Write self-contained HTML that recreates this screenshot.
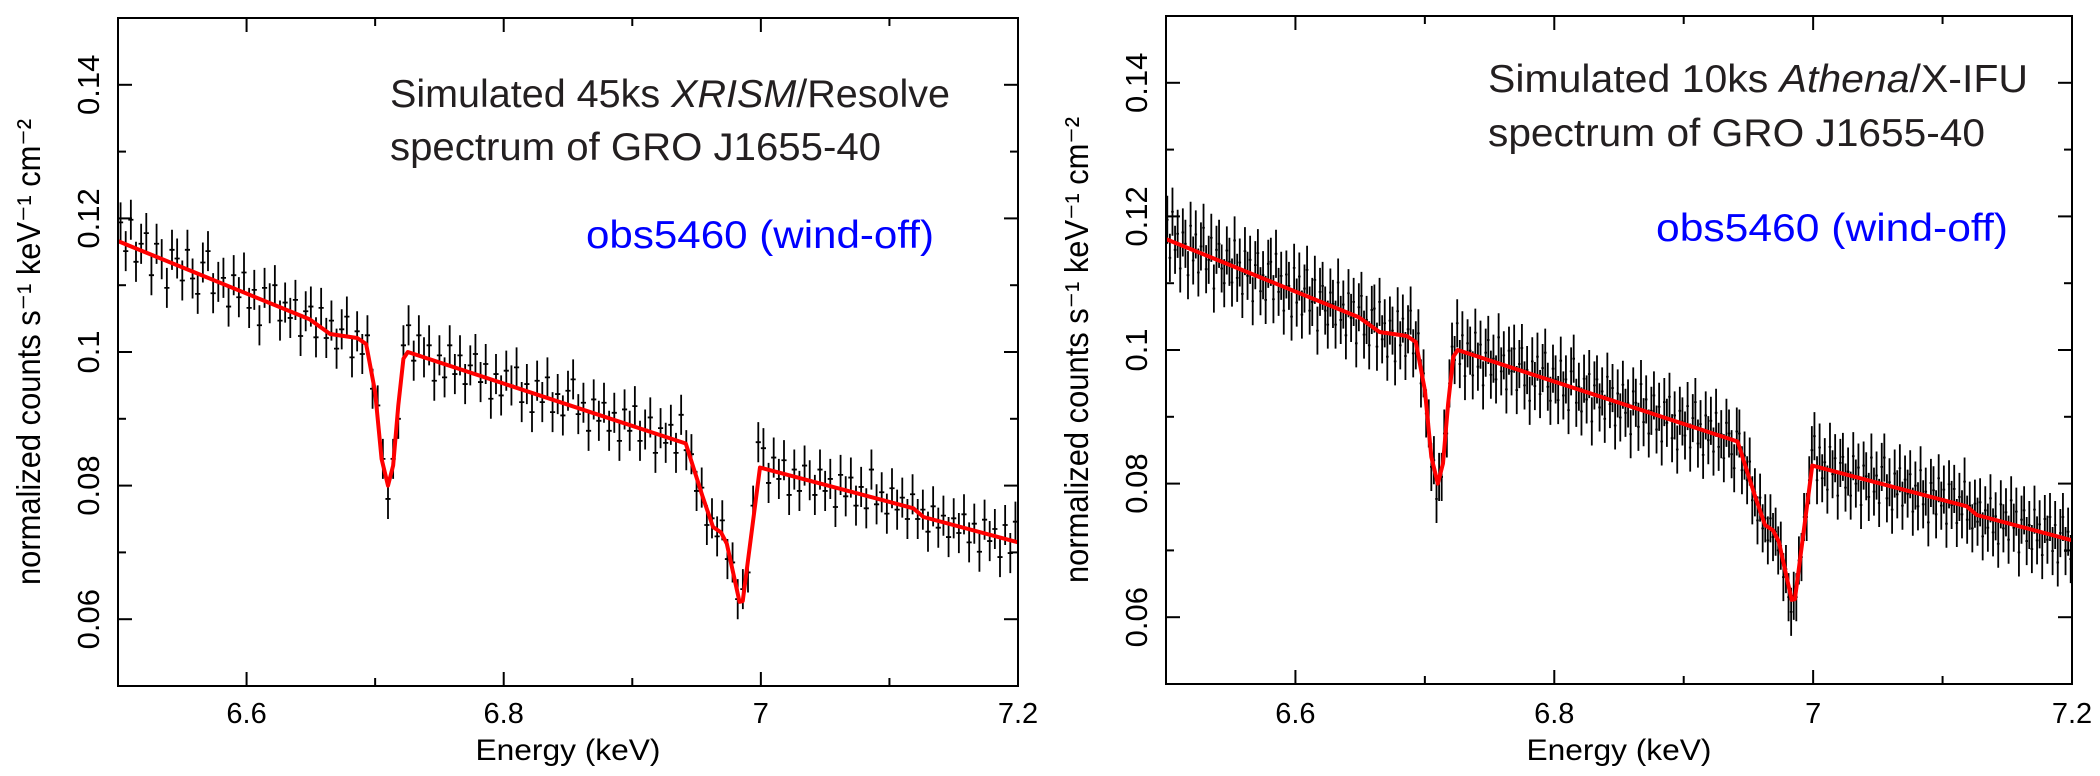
<!DOCTYPE html>
<html><head><meta charset="utf-8">
<style>
html,body{margin:0;padding:0;background:#fff;}
svg{display:block;font-family:"Liberation Sans",sans-serif;}
</style></head>
<body>
<svg id="fig" width="2100" height="776" viewBox="0 0 2100 776" xmlns="http://www.w3.org/2000/svg">
<defs>
<clipPath id="clipL"><rect x="118" y="18" width="900" height="668"/></clipPath>
<clipPath id="clipR"><rect x="1166" y="16" width="906" height="668"/></clipPath>
</defs>
<g id="panelL"></g>
<g id="panelR"></g>

<text x="390" y="107" font-size="39" fill="#231f20" textLength="560" lengthAdjust="spacingAndGlyphs">Simulated 45ks <tspan font-style="italic">XRISM</tspan>/Resolve</text>
<text x="390" y="160" font-size="39" fill="#231f20" textLength="491" lengthAdjust="spacingAndGlyphs">spectrum of GRO J1655-40</text>
<text x="586" y="248" font-size="39" fill="#0000ff" textLength="348" lengthAdjust="spacingAndGlyphs">obs5460 (wind-off)</text>

<text x="1488" y="92" font-size="39" fill="#231f20" textLength="540" lengthAdjust="spacingAndGlyphs">Simulated 10ks <tspan font-style="italic">Athena</tspan>/X-IFU</text>
<text x="1488" y="146" font-size="39" fill="#231f20" textLength="497" lengthAdjust="spacingAndGlyphs">spectrum of GRO J1655-40</text>
<text x="1656" y="241" font-size="39" fill="#0000ff" textLength="352" lengthAdjust="spacingAndGlyphs">obs5460 (wind-off)</text>
</svg>
<script>
// ---- data ----
const xTickValues = [6.6, 6.8, 7.0, 7.2];
const xTickLabels = ["6.6", "6.8", "7", "7.2"];
const xMinorTicks = [6.7, 6.9, 7.1];
const yTickValues = [0.06, 0.08, 0.10, 0.12, 0.14];
const yTickLabels = ["0.06", "0.08", "0.1", "0.12", "0.14"];
const yMinorTicks = [0.07, 0.09, 0.11, 0.13];

const modelEnergy = [6.5,6.649,6.665,6.686,6.693,6.700,6.705,6.710,6.714,6.718,6.722,6.7254,6.9416,6.9548,6.9628,6.969,6.9735,6.9834,6.9859,6.9993,7.1186,7.1265,7.2];
const modelFlux = [.1166,.1049,.1027,.1021,.1012,.0940,.0840,.0800,.0830,.0920,.0990,.1000,.0863,.0783,.0738,.0730,.0713,.0626,.0627,.0827,.0766,.0753,.0715];

// XRISM/Resolve: bins start 6.502 keV, 4 eV wide
const leftStart = 6.502, leftBin = 0.004, leftErr = 0.0030;
const leftValues = [
.1194,.1151,.1198,.1135,.1162,.1178,.1115,.1162,.1139,.1096,.1153,.1140,.1107,.1153,.1110,.1087,.1134,.1151,.1088,.1105,
.1111,.1068,.1115,.1082,.1119,.1066,.1093,.1040,.1096,.1073,.1100,.1047,.1074,.1051,.1078,.1024,.1061,.1068,.1022,.1066,
.1021,.1047,.1005,.1034,.1053,.0992,.1031,.0997,.1025,.0945,.0920,.0840,.0780,.0840,.0900,.1010,.1040,.0987,.1025,.0992,
.1010,.0957,.0995,.0962,.1010,.0967,.0995,.0952,.0980,.0997,.0955,.0982,.0930,.0967,.0935,.0972,.0950,.0977,.0925,.0952,
.0910,.0957,.0925,.0962,.0910,.0937,.0905,.0942,.0959,.0907,.0924,.0882,.0929,.0897,.0924,.0882,.0909,.0867,.0914,.0882,
.0919,.0867,.0884,.0902,.0849,.0886,.0864,.0891,.0849,.0906,.0853,.0847,.0792,.0797,.0741,.0751,.0724,.0748,.0690,.0685,
.0630,.0645,.0670,.0770,.0865,.0856,.0804,.0842,.0810,.0838,.0786,.0824,.0792,.0830,.0808,.0786,.0824,.0792,.0810,.0768,
.0816,.0784,.0812,.0770,.0798,.0766,.0824,.0772,.0790,.0758,.0796,.0764,.0782,.0750,.0787,.0750,.0764,.0731,.0769,.0737,
.0755,.0723,.0751,.0729,.0757,.0715,.0743,.0701,.0749,.0717,.0735,.0693,.0741,.0699,.0746];

// Athena/X-IFU: bins start 6.501 keV, 2 eV wide
const rightStart = 6.501, rightBin = 0.002, rightErr = 0.0036;
const rightValues = [
.1195,.1138,.1207,.1150,.1174,.1122,.1176,.1159,.1112,.1186,.1134,.1173,.1116,.1155,.1183,.1121,.1135,.1168,.1092,.1150,
.1159,.1122,.1100,.1149,.1132,.1101,.1164,.1108,.1131,.1084,.1148,.1111,.1135,.1073,.1127,.1145,.1088,.1112,.1075,.1129,
.1132,.1076,.1144,.1087,.1111,.1059,.1113,.1096,.1050,.1123,.1071,.1110,.1053,.1092,.1120,.1059,.1072,.1105,.1029,.1087,
.1096,.1059,.1038,.1086,.1069,.1038,.1101,.1045,.1068,.1022,.1085,.1048,.1072,.1010,.1064,.1081,.1023,.1045,.1007,.1060,
.1062,.1005,.1072,.1016,.1040,.0990,.1044,.1029,.0983,.1058,.1007,.1047,.0991,.1031,.1059,.0995,.1007,.1025,.0950,.0965,
.0905,.0890,.0825,.0835,.0777,.0810,.0810,.0875,.0875,.0950,.1005,.0985,.1040,.0979,.1022,.0961,.1010,.0999,.0962,.1026,
.0975,.1008,.0947,.0996,.1015,.0963,.0987,.0956,.1019,.0968,.0992,.0941,.0999,.0968,.1002,.0940,.0979,.1003,.0947,.0970,
.0924,.0983,.0946,.0990,.0934,.0973,.0996,.0945,.0924,.0972,.0956,.0925,.0984,.0932,.0956,.0910,.0968,.0987,.0921,.0945,
.0908,.0957,.0926,.0964,.0893,.0947,.0956,.0914,.0938,.0897,.0960,.0919,.0943,.0887,.0935,.0899,.0948,.0906,.0920,.0874,
.0938,.0921,.0885,.0949,.0892,.0926,.0875,.0909,.0932,.0881,.0915,.0863,.0922,.0891,.0930,.0868,.0902,.0851,.0909,.0893,
.0872,.0916,.0854,.0898,.0922,.0860,.0889,.0843,.0902,.0865,.0894,.0848,.0906,.0855,.0874,.0838,.0891,.0875,.0844,.0823,
.0878,.0875,.0820,.0842,.0805,.0833,.0775,.0787,.0745,.0779,.0733,.0748,.0715,.0748,.0720,.0728,.0700,.0707,.0660,.0672,
.0630,.0608,.0632,.0630,.0685,.0690,.0750,.0750,.0805,.0850,.0871,.0805,.0854,.0808,.0832,.0791,.0855,.0814,.0838,.0782,
.0831,.0840,.0794,.0818,.0782,.0841,.0800,.0824,.0768,.0827,.0811,.0780,.0839,.0788,.0812,.0771,.0825,.0839,.0778,.0802,
.0761,.0815,.0784,.0823,.0767,.0806,.0785,.0814,.0758,.0797,.0766,.0820,.0769,.0788,.0742,.0801,.0790,.0754,.0808,.0767,
.0791,.0740,.0799,.0768,.0792,.0741,.0780,.0754,.0803,.0746,.0767,.0733,.0770,.0743,.0772,.0721,.0760,.0734,.0778,.0727,
.0751,.0710,.0769,.0733,.0757,.0716,.0775,.0734,.0758,.0697,.0746,.0760,.0714,.0738,.0702,.0761,.0715,.0739,.0693,.0747,
.0716,.0750,.0699,.0738,.0682,.0726,.0750,.0699,.0728,.0687];

const NS = "http://www.w3.org/2000/svg";
function mk(tag, attrs, parent) {
  const el = document.createElementNS(NS, tag);
  for (const k in attrs) el.setAttribute(k, attrs[k]);
  parent.appendChild(el);
  return el;
}

function drawPanel(g, cfg, values, start, bin, err, side) {
  const xMin = 6.5, xMax = 7.2, yMin = 0.05, yMax = 0.15;
  const X = e => cfg.x0 + (e - xMin) / (xMax - xMin) * (cfg.x1 - cfg.x0);
  const Y = v => cfg.y1 - (v - yMin) / (yMax - yMin) * (cfg.y1 - cfg.y0);

  const dg = mk("g", {"clip-path": "url(#" + cfg.clip + ")", stroke: "#000", "stroke-width": cfg.sw, fill: "none"}, g);
  
  
  for (let i = 0; i < values.length; i++) {
    const e = start + i * bin;
    const v = values[i];
    const xc = X(e), yc = Y(v);
    const d = "M" + xc.toFixed(2) + " " + Y(v + err).toFixed(2) + "V" + Y(v - err).toFixed(2) +
              "M" + X(e - bin / 2).toFixed(2) + " " + yc.toFixed(2) + "H" + X(e + bin / 2).toFixed(2);
    const p = mk("path", {d: d}, dg);
    
    
  }

  let pts = [];
  for (let i = 0; i < modelEnergy.length; i++) pts.push(X(modelEnergy[i]).toFixed(2) + "," + Y(modelFlux[i]).toFixed(2));
  const ml = mk("polyline", {points: pts.join(" "), fill: "none", stroke: "#ff0000", "stroke-width": 4, "stroke-linejoin": "round", "clip-path": "url(#" + cfg.clip + ")"}, g);
  
  

  const fr = mk("rect", {x: cfg.x0, y: cfg.y0, width: cfg.x1 - cfg.x0, height: cfg.y1 - cfg.y0, fill: "none", stroke: "#000", "stroke-width": 2}, g);
  
  

  const tg = mk("g", {stroke: "#000", "stroke-width": 2}, g);
  
  
  const addTick = (x1, y1, x2, y2) => mk("line", {x1: x1, y1: y1, x2: x2, y2: y2}, tg);
  xTickValues.forEach(t => { const x = X(t); addTick(x, cfg.y1, x, cfg.y1 - 14); addTick(x, cfg.y0, x, cfg.y0 + 14); });
  xMinorTicks.forEach(t => { const x = X(t); addTick(x, cfg.y1, x, cfg.y1 - 8); addTick(x, cfg.y0, x, cfg.y0 + 8); });
  yTickValues.forEach(t => { const y = Y(t); addTick(cfg.x0, y, cfg.x0 + 14, y); addTick(cfg.x1, y, cfg.x1 - 14, y); });
  yMinorTicks.forEach(t => { const y = Y(t); addTick(cfg.x0, y, cfg.x0 + 8, y); addTick(cfg.x1, y, cfg.x1 - 8, y); });

  xTickValues.forEach((t, i) => {
    const tx = mk("text", {x: X(t), y: 723, "font-size": 29, "text-anchor": "middle", fill: "#000"}, g);
    tx.textContent = xTickLabels[i];
    
    
  });
  yTickValues.forEach((t, i) => {
    const ty = mk("text", {transform: "translate(" + (cfg.x0 - 19) + "," + Y(t) + ") rotate(-90)", "font-size": 31, "text-anchor": "middle", fill: "#000"}, g);
    ty.textContent = yTickLabels[i];
    
    
  });

  const xt = mk("text", {x: (cfg.x0 + cfg.x1) / 2, y: 760, "font-size": 30, "text-anchor": "middle", fill: "#000", textLength: 185, lengthAdjust: "spacingAndGlyphs"}, g);
  xt.textContent = "Energy (keV)";
  
  

  const yt = mk("text", {transform: "translate(" + (cfg.x0 - 78) + "," + ((cfg.y0 + cfg.y1) / 2) + ") rotate(-90)", "font-size": 33, "text-anchor": "middle", fill: "#000", textLength: 466, lengthAdjust: "spacingAndGlyphs"}, g);
  yt.textContent = "normalized counts s\u207B\u00B9 keV\u207B\u00B9 cm\u207B\u00B2";
  
  
}

drawPanel(document.getElementById("panelL"), {x0: 118, x1: 1018, y0: 18, y1: 686, clip: "clipL", sw: 1.8}, leftValues, leftStart, leftBin, leftErr, "left");
drawPanel(document.getElementById("panelR"), {x0: 1166, x1: 2072, y0: 16, y1: 684, clip: "clipR", sw: 1.8}, rightValues, rightStart, rightBin, rightErr, "right");
</script>
</body></html>
